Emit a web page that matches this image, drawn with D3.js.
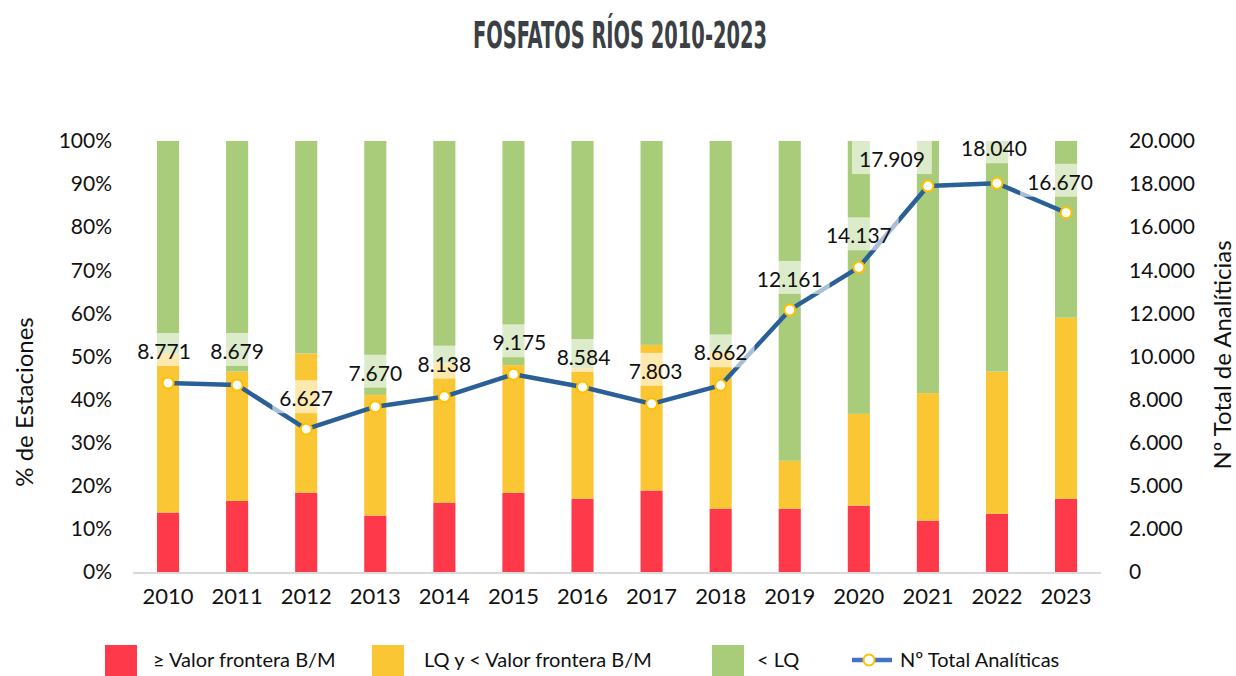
<!DOCTYPE html>
<html>
<head>
<meta charset="utf-8">
<script src="https://cdn.jsdelivr.net/npm/d3@7"></script>
<style>
  html, body { margin: 0; padding: 0; background: #ffffff; }
  svg { display: block; }
  text { font-family: Lato, "Open Sans", sans-serif; fill: #111111; }
</style>
</head>
<body>
<svg id="chart" width="1236" height="676"></svg>
<script>
// Years on the x axis
const years = ["2010","2011","2012","2013","2014","2015","2016","2017","2018","2019","2020","2021","2022","2023"];

// Share of stations (%) in each class
const pctAboveLimit = [13.8, 16.5, 18.4, 13.1, 16.1, 18.4, 17.0, 18.9, 14.7, 14.7, 15.4, 11.9, 13.5, 17.0];
const pctBetween    = [36.9, 30.0, 32.3, 28.0, 32.3, 29.6, 30.3, 33.8, 36.4, 11.1, 21.3, 29.6, 33.0, 42.0];
const pctBelowLQ    = [49.3, 53.5, 49.3, 58.9, 51.6, 52.0, 52.7, 47.3, 48.9, 74.2, 63.3, 58.5, 53.5, 41.0];

// Total number of analyses per year
const totalAnalyses = [8771, 8679, 6627, 7670, 8138, 9175, 8584, 7803, 8662, 12161, 14137, 17909, 18040, 16670];

// Axis ticks
const leftTicks = [0, 10, 20, 30, 40, 50, 60, 70, 80, 90, 100];
const rightTicks = [0, 2000, 4000, 6000, 8000, 10000, 12000, 14000, 16000, 18000, 20000];
const rightTickLabels = ["0", "2.000", "5.000", "6.000", "8.000", "10.000", "12.000", "14.000", "16.000", "18.000", "20.000"];

// Series names
const seriesNames = ["≥ Valor frontera B/M", "LQ y < Valor frontera B/M", "< LQ"];
const lineName = "Nº Total Analíticas";

// Hand-placed nudges for the value labels (px)
const labelDx = [-4, 0, 0, 0, 0, 6, 1, 4, 0, 0, 0, -36, -3, -6];
const labelDy = [-24, -26, -23, -26, -25, -24, -22, -25, -25, -23, -24, -19, -27, -23];

const colors = ["#fe3a4a", "#fbc634", "#a9cc7b"];
const lineColor = "#2b6097";
const markerStroke = "#ffc000";

const svg = d3.select("#chart");
const plotTop = 141, plotBottom = 572;

const x = d3.scaleBand().domain(years).range([133.5, 1100.6]).paddingInner(0.68).paddingOuter(0.34);
const yL = d3.scaleLinear().domain([0, 100]).range([plotBottom, plotTop]);
const yR = d3.scaleLinear().domain([0, 20000]).range([plotBottom, plotTop]);
const fmt = d3.formatLocale({ decimal: ",", thousands: ".", grouping: [3] }).format(",d");

// Title
svg.append("text")
  .attr("x", 620).attr("y", 48)
  .attr("text-anchor", "middle")
  .attr("textLength", 294).attr("lengthAdjust", "spacingAndGlyphs")
  .style("font-family", "'Liberation Sans Narrow', 'DejaVu Sans Condensed', sans-serif")
  .style("font-weight", "bold")
  .style("font-size", "38px")
  .style("fill", "#3b4045")
  .text("FOSFATOS RÍOS 2010-2023");

// Stacked bars
const rows = years.map((yr, i) => ({ year: yr, a: pctAboveLimit[i], b: pctBetween[i], c: pctBelowLQ[i] }));
const stack = d3.stack().keys(["a", "b", "c"])(rows);
svg.append("g").selectAll("g").data(stack).join("g")
  .attr("fill", (d, i) => colors[i])
  .selectAll("rect").data(d => d).join("rect")
  .attr("x", d => x(d.data.year))
  .attr("width", x.bandwidth())
  .attr("y", d => yL(d[1]))
  .attr("height", d => yL(d[0]) - yL(d[1]));

// Baseline
svg.append("line")
  .attr("x1", 133).attr("x2", 1101)
  .attr("y1", plotBottom + 1).attr("y2", plotBottom + 1)
  .attr("stroke", "#d9d9d9").attr("stroke-width", 2);

// Left axis labels
const gL = svg.append("g").attr("transform", "translate(112,0)")
  .call(d3.axisLeft(yL).tickValues(leftTicks).tickSize(0).tickPadding(0).tickFormat(d => d + "%"));
gL.select(".domain").remove();
gL.selectAll("text").style("font-size", "21px").style("font-family", "Lato, sans-serif").attr("fill", "#111");

// Right axis labels
const gR = svg.append("g").attr("transform", "translate(1129,0)")
  .call(d3.axisRight(yR).tickValues(rightTicks).tickSize(0).tickPadding(0)
    .tickFormat((d, i) => rightTickLabels[i]));
gR.select(".domain").remove();
gR.selectAll("text").style("font-size", "21px").style("font-family", "Lato, sans-serif").attr("fill", "#111");

// Year labels
const gX = svg.append("g").attr("transform", `translate(0,${plotBottom + 16})`)
  .call(d3.axisBottom(x).tickSize(0).tickPadding(0));
gX.select(".domain").remove();
gX.selectAll("text").style("font-size", "22px").style("font-family", "Lato, sans-serif").attr("fill", "#111");

// Axis titles
svg.append("text")
  .attr("transform", "translate(33,402) rotate(-90)")
  .attr("text-anchor", "middle")
  .style("font-size", "24px")
  .text("% de Estaciones");
svg.append("text")
  .attr("transform", "translate(1231,355) rotate(-90)")
  .attr("text-anchor", "middle")
  .style("font-size", "24px")
  .text("Nº Total de Analíticias");

// Line of total analyses
const pts = years.map((yr, i) => ({ cx: x(yr) + x.bandwidth() / 2, cy: yR(totalAnalyses[i]), v: totalAnalyses[i], i }));
svg.append("path")
  .datum(pts)
  .attr("d", d3.line().x(d => d.cx).y(d => d.cy))
  .attr("fill", "none")
  .attr("stroke", lineColor)
  .attr("stroke-width", 4.5)
  .attr("stroke-linejoin", "round");

// Value labels with translucent white boxes
const labels = svg.append("g");
pts.forEach(p => {
  const lx = p.cx + labelDx[p.i];
  const ly = p.cy + labelDy[p.i];
  const t = labels.append("text")
    .attr("x", lx).attr("y", ly)
    .attr("text-anchor", "middle")
    .style("font-size", "21px")
    .text(fmt(p.v));
  const w = t.node().getComputedTextLength();
  labels.insert("rect", "text")
    .attr("x", lx - w / 2 - 7).attr("y", ly - 26)
    .attr("width", w + 14).attr("height", 33)
    .attr("fill", "#ffffff").attr("fill-opacity", 0.6);
});

// Markers
svg.append("g").selectAll("circle").data(pts).join("circle")
  .attr("cx", d => d.cx).attr("cy", d => d.cy).attr("r", 5.5)
  .attr("fill", "#ffffff").attr("stroke", markerStroke).attr("stroke-width", 2);

// Keep label text above markers
labels.raise();

// Legend
const legend = svg.append("g");
const legendItems = [
  { x: 105, tx: 153 },
  { x: 372, tx: 424 },
  { x: 712, tx: 757 }
];
legendItems.forEach((it, i) => {
  legend.append("rect").attr("x", it.x).attr("y", 645).attr("width", 32).attr("height", 32).attr("fill", colors[i]);
  legend.append("text").attr("x", it.tx).attr("y", 667).style("font-size", "20px").text(seriesNames[i]);
});
legend.append("line").attr("x1", 852).attr("x2", 892).attr("y1", 660).attr("y2", 660)
  .attr("stroke", "#4472c4").attr("stroke-width", 4.5);
legend.append("circle").attr("cx", 869).attr("cy", 660).attr("r", 5.5)
  .attr("fill", "#ffffff").attr("stroke", markerStroke).attr("stroke-width", 2);
legend.append("text").attr("x", 900).attr("y", 667).style("font-size", "20px").text(lineName);
</script>
</body>
</html>
